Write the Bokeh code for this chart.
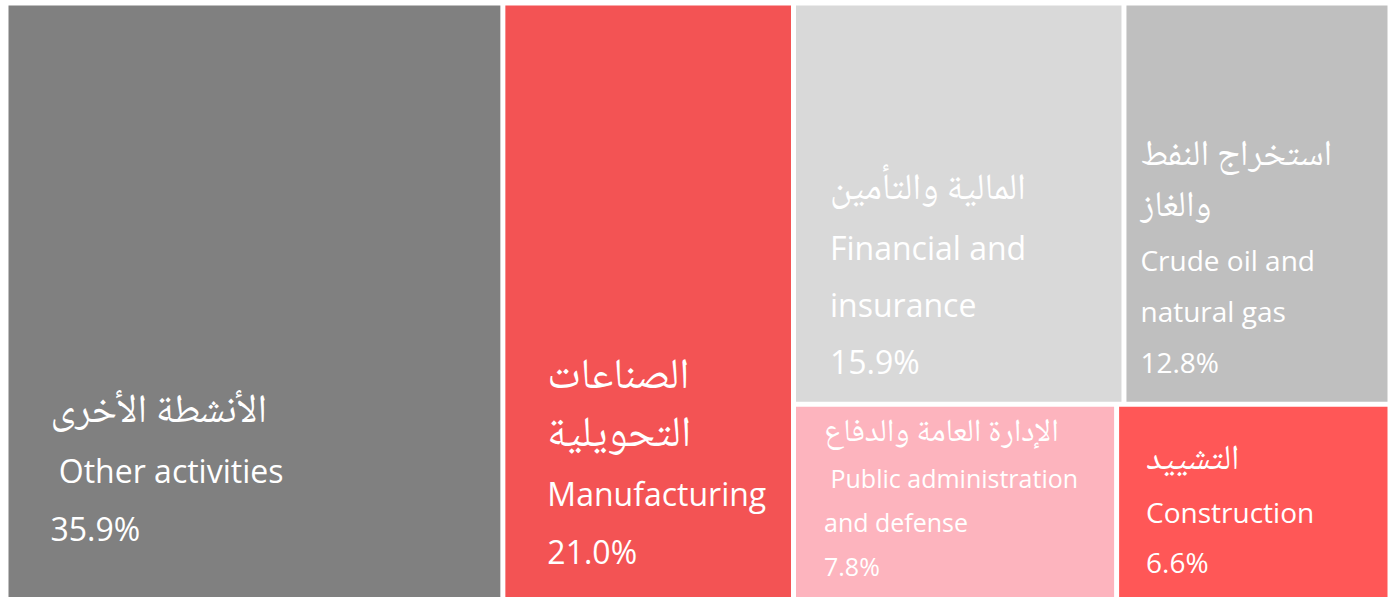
from bokeh.plotting import figure
from bokeh.models import Range1d
from bokeh.core.properties import value
from bokeh.embed import file_html
from bokeh.resources import INLINE

# ---- data ----
sectors_en = ["Other activities", "Manufacturing", "Financial and insurance",
              "Crude oil and natural gas", "Public administration and defense", "Construction"]
sectors_ar = ["الأنشطة الأخرى", "الصناعات التحويلية", "المالية والتأمين",
              "استخراج النفط والغاز", "الإدارة العامة والدفاع", "التشييد"]
shares = [35.9, 21.0, 15.9, 12.8, 7.8, 6.6]

# wrapped label lines (text content from above)
ar_lines = [["الأنشطة الأخرى"], ["الصناعات", "التحويلية"], ["المالية والتأمين"],
            ["استخراج النفط", "والغاز"], ["الإدارة العامة والدفاع"], ["التشييد"]]
en_lines = [[" Other activities"], ["Manufacturing"], ["Financial and", "insurance"],
            ["Crude oil and", "natural gas"], [" Public administration", "and defense"], ["Construction"]]

colors = ["#808080", "#F35354", "#D9D9D9", "#BFBFBF", "#FDB4BE", "#FF5757"]

# ---- treemap layout (page pixel coordinates, y downward) ----
X0, X1, Y0, Y1 = 5.5, 1389.5, 2.5, 605.0
W, H = X1 - X0, Y1 - Y0
total = sum(shares)
rects = []
x = X0
for v in shares[:2]:
    w = W * v / total
    rects.append((x, x + w, Y0, Y1))
    x += w
rest = shares[2:]
rest_tot = sum(rest)
top_tot = rest[0] + rest[1]
ymid = Y0 + H * top_tot / rest_tot
bw = X1 - x
xx = x
for v in rest[:2]:
    w = bw * v / top_tot
    rects.append((xx, xx + w, Y0, ymid))
    xx += w
bot_tot = rest[2] + rest[3]
xx = x
for v in rest[2:]:
    w = bw * v / bot_tot
    rects.append((xx, xx + w, ymid, Y1))
    xx += w

g = 2.5
left = [r[0] + g for r in rects]
right = [r[1] - g for r in rects]
top = [r[2] + g for r in rects]
bottom = [r[3] - g for r in rects]

p = figure(width=1392, height=597, output_backend="svg", toolbar_location=None,
           x_range=Range1d(0, 1392), y_range=Range1d(597, 0), min_border=0)
p.axis.visible = False
p.grid.visible = False
p.outline_line_color = None
p.background_fill_color = "white"
p.border_fill_color = "white"

p.quad(left=left, right=right, top=top, bottom=bottom, fill_color=colors, line_color=None)

# label styles: (x offset from rect left, first line y, line step, latin size, arabic size)
styles = [(42, 412, 58, 32, 40), (42, 378, 57.5, 32, 43), (34, 190, 57, 32, 37),
          (14, 157, 51, 28, 36), (28, 433, 44, 25, 32), (27, 461, 50, 28, 35)]

latin = value("Open Sans")
arabic = value("'Noto Naskh Arabic', 'Noto Sans Arabic', 'DejaVu Sans', 'Open Sans'")
for i in range(len(shares)):
    dx, y0, step, fs, fa = styles[i]
    n_ar = len(ar_lines[i])
    lat = [s.replace(" ", "\u00a0", 1) if s.startswith(" ") else s for s in en_lines[i]]
    lat = lat + [f"{shares[i]:.1f}%"]
    x0 = left[i] + dx
    p.text(x=[x0] * n_ar, y=[y0 + k * step for k in range(n_ar)], text=ar_lines[i],
           text_color="white", text_font=arabic, text_font_size=f"{fa}px",
           text_baseline="middle", text_align="left")
    p.text(x=[x0] * len(lat), y=[y0 + (n_ar + k) * step for k in range(len(lat))], text=lat,
           text_color="white", text_font=latin, text_font_size=f"{fs}px",
           text_baseline="middle", text_align="left")

open("out.html", "w").write(file_html(p, INLINE))
